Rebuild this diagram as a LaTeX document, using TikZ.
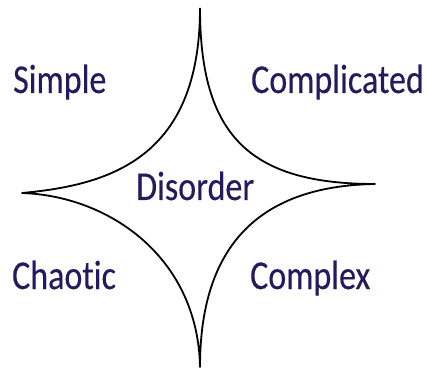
\documentclass[tikz,border=0pt]{standalone}
\usepackage{fontspec}
\setmainfont[Ligatures=NoCommon, FakeBold=0.3]{Carlito}
\usetikzlibrary{positioning}
\definecolor{domainText}{RGB}{36,26,92}
\tikzset{%
	% Specifications for style of nodes:
	area/.style = {anchor=base west, inner sep=0pt, text=domainText,
		font=\fontsize{41pt}{41pt}\selectfont, xscale=0.83, transform shape},
	border/.style = {draw=black, line width=1.8pt, line join=round},
}
\begin{document}
\begin{tikzpicture}[x=1pt, y=1pt]
\useasboundingbox (0,0) rectangle (427,369);
% tips of the star
\coordinate (top) at (200,361);
\coordinate (right) at (375,185);
\coordinate (bottom) at (200,2);
\coordinate (left) at (22,176);
\draw[border] (top) .. controls (200,234) and (249,185) .. (right)
	.. controls (255,183) and (200,119) .. (bottom)
	.. controls (198,111) and (110,173) .. (left)
	.. controls (110,184) and (200,211) .. (top);
\node (simple) [area] at (13,276) {Simple};
\node (complicated) [area] at (251,276) {Complicated};
\node (disorder) [area] at (136,169) {Disorder};
\node (chaotic) [area] at (12,80) {Chaotic};
\node (complex) [area] at (250,80) {Complex};
\end{tikzpicture}
\end{document}
